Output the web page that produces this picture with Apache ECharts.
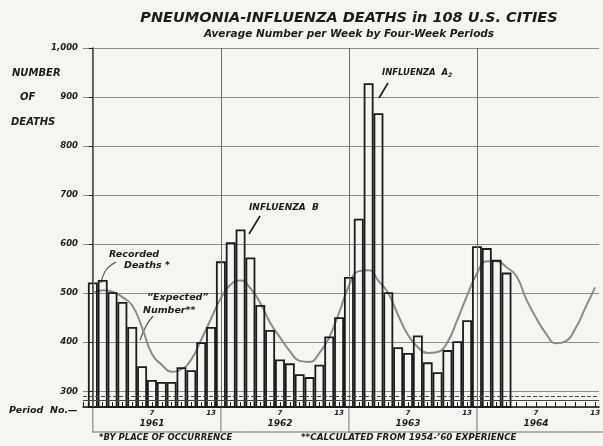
<!DOCTYPE html>
<html>
<head>
<meta charset="utf-8">
<script src="https://cdn.jsdelivr.net/npm/echarts@6/dist/echarts.min.js"></script>
<style>
html,body{margin:0;padding:0;background:#f5f5f1;}
#chart{width:603px;height:446px;}
</style>
</head>
<body>
<div id="chart"></div>
<script>
// four-week periods, 13 per year
var years = ['1961', '1962', '1963', '1964'];
var periodTicks = [7, 13];
var yTicks = [300, 400, 500, 600, 700, 800, 900, 1000];

// recorded deaths, average per week
var recorded1961 = [522, 527, 502, 482, 431, 351, 323, 319, 319, 349, 343, 400, 431];
var recorded1962 = [565, 604, 630, 573, 476, 425, 365, 357, 335, 329, 354, 412, 451];
var recorded1963 = [533, 652, 928, 867, 502, 390, 378, 414, 359, 339, 384, 402, 445];
var recorded1964 = [596, 592, 568, 542];

// "expected" number (1954-'60 experience)
var expected1961 = [500, 506, 503, 492, 475, 430, 376, 354, 340, 345, 365, 405, 448];
var expected1962 = [490, 518, 526, 510, 480, 440, 410, 382, 362, 360, 378, 410, 460];
var expected1963 = [515, 545, 547, 525, 500, 455, 415, 390, 378, 380, 400, 445, 495];
var expected1964 = [540, 565, 565, 553, 535, 488, 450, 418, 398, 402, 428, 470, 512];

var recorded = recorded1961.concat(recorded1962, recorded1963, recorded1964);
var expected = expected1961.concat(expected1962, expected1963, expected1964);

var FONT = 'DejaVu Sans';
var INK = '#1c1c1c';

const chart = echarts.init(document.getElementById('chart'));

let option = {
    backgroundColor: '#f5f5f1',
    animation: false,
    title: {
        text: 'PNEUMONIA-INFLUENZA DEATHS in 108 U.S. CITIES',
        subtext: 'Average Number per Week by Four-Week Periods',
        left: 344,
        textAlign: 'center',
        top: 6,
        itemGap: 3,
        textStyle: { fontFamily: FONT, fontSize: 14.5, fontWeight: 'bold', fontStyle: 'italic', color: INK },
        subtextStyle: { fontFamily: FONT, fontSize: 10.5, fontWeight: 'bold', fontStyle: 'italic', color: INK }
    },
    grid: { left: 83, right: 0, top: 48, bottom: 39 },
    xAxis: {
        type: 'value',
        min: -1,
        max: 51.4,
        interval: 1,
        splitLine: { show: false },
        axisLine: { lineStyle: { color: INK, width: 1.5 } },
        axisTick: { inside: true, length: 5, lineStyle: { color: INK } },
        axisLabel: {
            margin: 2,
            showMaxLabel: false,
            formatter: function (v) {
                if (v < 0) return '';
                var p = v % 13 + 1;
                var yr = years[Math.floor(v / 13)];
                if (p === periodTicks[0]) return '{p|' + p + '}\n{y|' + yr + '}';
                if (p === periodTicks[1]) return '{p|' + p + '}';
                return '';
            },
            rich: {
                p: { fontFamily: FONT, fontSize: 7, fontWeight: 'bold', fontStyle: 'italic', color: INK, lineHeight: 9 },
                y: { fontFamily: FONT, fontSize: 9, fontWeight: 'bold', fontStyle: 'italic', color: INK, lineHeight: 11 }
            }
        }
    },
    yAxis: {
        type: 'value',
        min: 268,
        max: 1000,
        splitNumber: 7,
        axisLine: { show: true, lineStyle: { color: INK, width: 1.5 } },
        axisTick: { show: true, length: 4, lineStyle: { color: INK } },
        splitLine: { lineStyle: { color: '#8c8c8c', width: 1.2 } },
        axisLabel: {
            margin: 5,
            fontFamily: FONT, fontSize: 8.5, fontWeight: 'bold', fontStyle: 'italic', color: INK,
            formatter: function (v) {
                if (yTicks.indexOf(v) < 0) return '';
                return v === 1000 ? '1,000' : String(v);
            }
        }
    },
    series: [{
        name: 'Expected',
        type: 'line',
        smooth: 0.5,
        symbol: 'none',
        lineStyle: { color: '#8a8a8a', width: 2 },
        data: expected.map((v, i) => [i, v]),
        z: 2,
        markLine: {
            silent: true,
            symbol: 'none',
            label: { show: false },
            lineStyle: { color: '#6e6e6e', width: 1, type: 'solid' },
            data: [
                { xAxis: 0 }, { xAxis: 13 }, { xAxis: 26 }, { xAxis: 39 },
                { yAxis: 290, lineStyle: { type: 'dashed', color: '#444' } },
                { yAxis: 282, lineStyle: { color: '#444' } }
            ]
        }
    }, {
        name: 'Recorded',
        type: 'bar',
        barWidth: 9.9,
        itemStyle: { color: 'rgba(0,0,0,0)', borderColor: INK, borderWidth: 1.8 },
        data: recorded.map((v, i) => [i, v]),
        z: 3
    }]
};

chart.setOption(option);

// decorations placed through the chart's own scales
const px = (x, y) => chart.convertToPixel({ gridIndex: 0 }, [x, y]);
const base = px(0, 268)[1];
const txt = (x, y, text, size, rich) => ({
    type: 'text', x: x, y: y,
    style: { text: text, fontFamily: FONT, fontSize: size || 9, fontWeight: 'bold', fontStyle: 'italic',
             fill: INK, align: 'left', verticalAlign: 'middle', rich: rich }
});
const line = (pts, w, c) => ({
    type: 'polyline', shape: { points: pts, smooth: 0.4 },
    style: { stroke: c || INK, lineWidth: w || 1, fill: null }
});

let g = [];
[0, 13, 26, 39].forEach((i) => {
    let x = px(i, 0)[0];
    g.push(line([[x, base], [x, base + 26]], 1, '#6e6e6e'));
});
g.push(line([[px(0, 0)[0], base + 25], [603, base + 25]], 1, '#6e6e6e'));
g.push(txt(9, base + 4, 'Period  No.\u2014', 9.5));

g.push(txt(12, 73, 'NUMBER', 10));
g.push(txt(20, 97, 'OF', 10));
g.push(txt(11, 122, 'DEATHS', 10));

g.push(txt(109, 255, 'Recorded', 9.5));
g.push(txt(124, 266, 'Deaths *', 9.5));
g.push(line([[101, 283], [106, 270], [116, 262]], 1.2, '#555'));

g.push(txt(147, 298, '\u201cExpected\u201d', 9.5));
g.push(txt(143, 311, 'Number**', 9.5));
g.push(line([[140, 340], [146, 326], [153, 316]], 1.2, '#555'));

g.push(txt(249, 208, 'INFLUENZA  B', 9));
g.push(line([[260, 216], [249, 234]], 1.6, INK));

g.push(txt(382, 73, 'INFLUENZA  A{s|2}', 8.5, { s: { fontFamily: FONT, fontSize: 6, fontWeight: 'bold', fontStyle: 'italic', fill: INK, padding: [5, 0, 0, 0] } }));
g.push(line([[388, 83], [379, 98]], 1.6, INK));

g.push(txt(99, 438, '*BY PLACE OF OCCURRENCE', 8.5));
g.push(txt(301, 438, '**CALCULATED FROM 1954-\u201960 EXPERIENCE', 8.8));

chart.setOption({ graphic: g });

//根据窗口大小自适应图表
window.addEventListener('resize', () => { chart.resize(); });
</script>
</body>
</html>
